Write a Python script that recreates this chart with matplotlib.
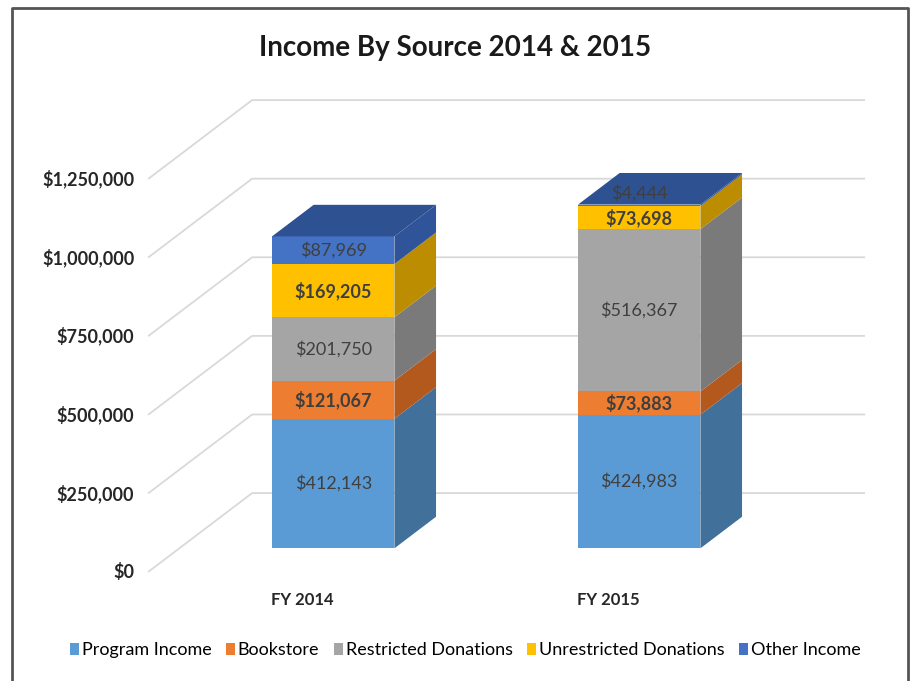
import matplotlib.pyplot as plt
from matplotlib.patches import Polygon, Patch
from matplotlib.lines import Line2D

# data
years = ['FY 2014', 'FY 2015']
sources = ['Program Income', 'Bookstore', 'Restricted Donations',
           'Unrestricted Donations', 'Other Income']
program_income = [412143, 424983]
bookstore = [121067, 73883]
restricted = [201750, 516367]
unrestricted = [169205, 73698]
other_income = [87969, 4444]
yticks = [0, 250000, 500000, 750000, 1000000, 1250000]

series = [program_income, bookstore, restricted, unrestricted, other_income]
front_colors = ['#5B9BD5', '#ED7D31', '#A5A5A5', '#FFC000', '#4472C4']
side_colors = ['#41709B', '#B3591E', '#7A7A7A', '#BC8D00', '#30549A']
top_color = '#2E5192'
grid_color = '#D9D9D9'
label_color = '#3F3F3F'
font = ['Lato', 'DejaVu Sans']

# fake 3d geometry: depth vector of the floor, bar width and depth span
ddx, ddy = 0.34, 251000
bar_w = 0.40
f0, f1 = 0.30, 0.70
wall_x = -0.503
grid_end = 1.84

fig = plt.figure(figsize=(9.14, 6.81), dpi=100)
ax = fig.add_axes([0, 0, 1, 1])
ax.set_xlim(-0.987, 2.0)
ax.set_ylim(-346700, 1819300)
ax.axis('off')

# gridlines: diagonal on the side wall, then flat on the back wall
for v in yticks:
    ax.plot([wall_x, wall_x + ddx, grid_end], [v, v + ddy, v + ddy],
            color=grid_color, lw=1.3, zorder=1, solid_capstyle='butt')
    ax.text(wall_x - 0.045, v, f'${v:,}', ha='right', va='center',
            fontsize=13, fontweight='bold', color='#262626', family=font)

# stacked 3d bars
for i in range(len(years)):
    x0 = i - bar_w / 2 + f0 * ddx
    x1 = x0 + bar_w
    sx = (f1 - f0) * ddx
    oy0, oy1 = f0 * ddy, f1 * ddy
    bottom = 0
    for k, vals in enumerate(series):
        top = bottom + vals[i]
        ax.add_patch(Polygon([(x0, bottom + oy0), (x1, bottom + oy0),
                              (x1, top + oy0), (x0, top + oy0)],
                             closed=True, fc=front_colors[k], ec='none', zorder=3))
        ax.add_patch(Polygon([(x1, bottom + oy0), (x1 + sx, bottom + oy1),
                              (x1 + sx, top + oy1), (x1, top + oy0)],
                             closed=True, fc=side_colors[k], ec='none', zorder=3))
        weight = 'bold' if k in (1, 3) else 'normal'
        cx, cy = (x0 + x1) / 2, (bottom + top) / 2 + oy0
        shift = 9 if vals[i] < 30000 else 0
        ax.annotate(f'${vals[i]:,}', (cx, cy), xytext=(0, shift),
                    textcoords='offset points', ha='center', va='center',
                    fontsize=13, color=label_color, fontweight=weight,
                    family=font, zorder=5)
        bottom = top
    ax.add_patch(Polygon([(x0, bottom + oy0), (x1, bottom + oy0),
                          (x1 + sx, bottom + oy1), (x0 + sx, bottom + oy1)],
                         closed=True, fc=top_color, ec='none', zorder=3))
    ax.annotate(years[i], (i, 0), xytext=(0, -20), textcoords='offset points',
                ha='center', va='center', fontsize=12, fontweight='bold',
                color='#262626', family=font)

fig.text(0.498, 0.930, 'Income By Source 2014 & 2015', ha='center', va='center',
         fontsize=20, fontweight='bold', color='#1a1a1a', family=font)

handles = [Patch(fc=c, ec='none') for c in front_colors]
fig.legend(handles, sources, loc='center', bbox_to_anchor=(0.509, 0.045), ncol=5,
           frameon=False, handlelength=0.5, handleheight=0.6, handletextpad=0.15,
           columnspacing=0.8, prop={'family': font, 'size': 13})

# outer frame of the screenshot
fx0, fx1, fy = 12 / 914, 908 / 914, 1 - 8 / 681
fig.add_artist(Line2D([fx0, fx0, fx1, fx1], [0, fy, fy, 0], color='#555555',
                      lw=2, transform=fig.transFigure))

fig.savefig('out.png', dpi=100)
